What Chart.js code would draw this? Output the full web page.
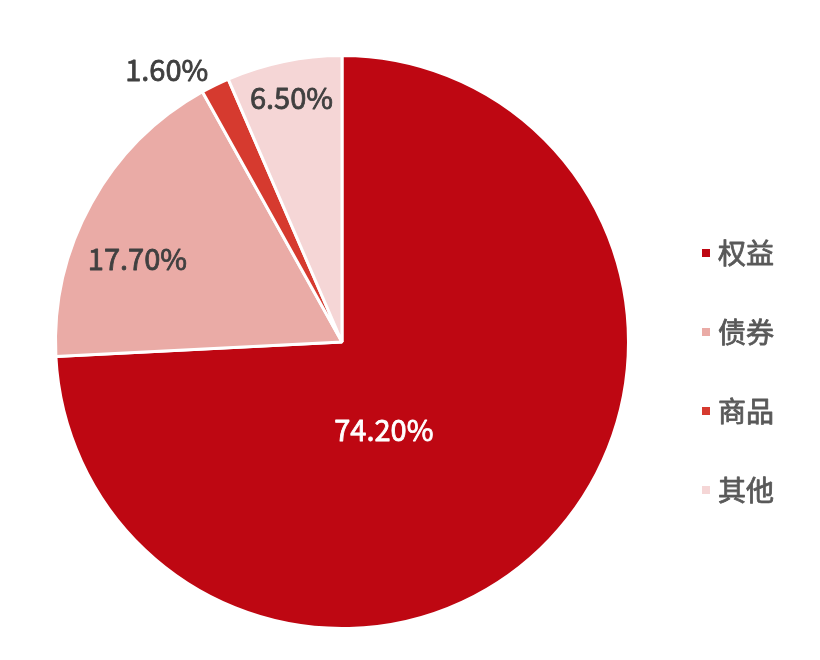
<!DOCTYPE html>
<html><head><meta charset="utf-8">
<script src="https://cdn.jsdelivr.net/npm/chart.js@4/dist/chart.umd.min.js"></script>
<style>html,body{margin:0;padding:0;background:#fff}#wrap{width:820px;height:660px}</style>
</head><body><div id="wrap"><canvas id="c" width="820" height="660"></canvas></div>
<script>
const categories = ['权益', '债券', '商品', '其他'];
const values = [74.2, 17.7, 1.6, 6.5];
const valueLabels = ['74.20%', '17.70%', '1.60%', '6.50%'];
const colors = ['#BE0712', '#EAABA6', '#D63A2F', '#F5D6D6'];

// label placement: radius fraction and angle shift (deg) relative to slice middle
const labelPlace = [
  {r: 0.34, da: 21, color: '#FFFFFF'},
  {r: 0.77, da: -7, color: '#404040'},
  {r: 1.13, da: -6.5, color: '#404040'},
  {r: 0.87, da: 0, color: '#404040'}
];

const FONT = '"Noto Sans CJK SC", "Noto Sans", sans-serif';

function medText(ctx, txt, x, y, color) {
  ctx.fillStyle = color;
  ctx.strokeStyle = color;
  ctx.lineWidth = 0.8;
  ctx.lineJoin = 'round';
  ctx.fillText(txt, x, y);
  ctx.strokeText(txt, x, y);
}

const labelPlugin = {
  id: 'sliceLabels',
  afterDatasetsDraw(chart) {
    const ctx = chart.ctx;
    const meta = chart.getDatasetMeta(0);
    ctx.save();
    ctx.font = '29px ' + FONT;
    ctx.textAlign = 'center';
    ctx.textBaseline = 'middle';
    meta.data.forEach((arc, i) => {
      const p = arc.getProps(['x', 'y', 'startAngle', 'endAngle', 'outerRadius'], true);
      const mid = (p.startAngle + p.endAngle) / 2 + labelPlace[i].da * Math.PI / 180;
      const rr = p.outerRadius * labelPlace[i].r;
      medText(ctx, valueLabels[i], p.x + Math.cos(mid) * rr, p.y + Math.sin(mid) * rr, labelPlace[i].color);
    });
    ctx.restore();
  }
};

const legendPlugin = {
  id: 'sideLegend',
  afterDraw(chart) {
    const ctx = chart.ctx;
    ctx.save();
    ctx.font = '28px ' + FONT;
    ctx.textBaseline = 'middle';
    ctx.textAlign = 'left';
    const x0 = 702, y0 = 253, step = 79;
    categories.forEach((c, i) => {
      const y = y0 + i * step;
      ctx.fillStyle = colors[i];
      ctx.fillRect(x0, y - 4, 8, 8);
      medText(ctx, c, x0 + 16, y, '#595959');
    });
    ctx.restore();
  }
};

new Chart(document.getElementById('c'), {
  type: 'pie',
  data: {
    labels: categories,
    datasets: [{
      data: values,
      backgroundColor: colors,
      borderColor: '#FFFFFF',
      borderWidth: 3
    }]
  },
  options: {
    responsive: false,
    animation: false,
    layout: {padding: {left: 54, top: 54, right: 190, bottom: 30}},
    plugins: {legend: {display: false}, tooltip: {enabled: false}}
  },
  plugins: [labelPlugin, legendPlugin]
});
</script>
</body></html>
